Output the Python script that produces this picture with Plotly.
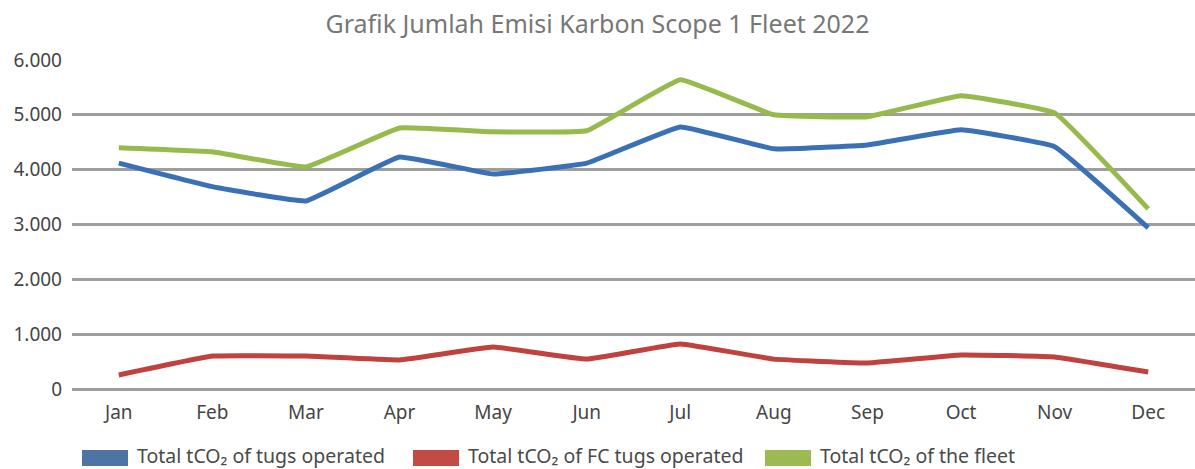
import plotly.graph_objects as go

months = ["Jan", "Feb", "Mar", "Apr", "May", "Jun", "Jul", "Aug", "Sep", "Oct", "Nov", "Dec"]
tugs_operated = [4120, 3690, 3430, 4230, 3920, 4120, 4780, 4380, 4450, 4730, 4420, 2940]
fc_tugs_operated = [255, 600, 600, 530, 765, 545, 820, 545, 475, 620, 585, 310]
fleet_total = [4400, 4325, 4050, 4760, 4690, 4710, 5640, 5000, 4965, 5350, 5035, 3285]

series_names = [
    "Total tCO₂ of tugs operated",
    "Total tCO₂ of FC tugs operated",
    "Total tCO₂ of the fleet",
]
line_colors = ["#3A70B5", "#C0423F", "#96BB4C"]
swatch_colors = ["#4E74A4", "#C44A46", "#9BBB52"]

fig = go.Figure()
for vals, name, col in zip([tugs_operated, fc_tugs_operated, fleet_total], series_names, line_colors):
    fig.add_trace(go.Scatter(
        x=months, y=vals, mode="lines", name=name,
        line=dict(color=col, width=5, shape="spline", smoothing=0.25),
        showlegend=False,
    ))

font_family = "Noto Sans, Open Sans, sans-serif"

PL, PT, PW, PH = 72, 60, 1123, 329

def px(x):
    return (x - PL) / PW

def py(y):
    return (PT + PH - y) / PH

# manual legend
legend_x = [82, 413, 765]
for lx, name, col in zip(legend_x, series_names, swatch_colors):
    fig.add_shape(type="rect", xref="paper", yref="paper",
                  x0=px(lx), x1=px(lx + 46), y0=py(450), y1=py(466),
                  fillcolor=col, line=dict(width=0))
    fig.add_annotation(text=name, xref="paper", yref="paper",
                       x=px(lx + 54), y=py(455.5), borderpad=0,
                       xanchor="left", yanchor="middle", showarrow=False,
                       font=dict(size=19.5, color="#4A4A4A", family=font_family))

fig.update_layout(
    width=1195, height=469,
    margin=dict(l=PL, r=0, t=PT, b=469 - PT - PH),
    paper_bgcolor="white", plot_bgcolor="white",
    title=dict(text="Grafik Jumlah Emisi Karbon Scope 1 Fleet 2022",
               x=0.5, xanchor="center", y=1 - 24 / 469, yanchor="middle",
               font=dict(size=25, color="#777777", family=font_family)),
    font=dict(family=font_family, color="#454545", size=19),
    xaxis=dict(range=[-0.5, 11.5], showgrid=False, showline=False, zeroline=False, ticks="",
               ticklabelstandoff=10,
               tickfont=dict(size=19, color="#454545")),
    yaxis=dict(range=[0, 6000], dtick=1000, tickformat=",d",
               showgrid=True, gridcolor="#9E9E9E", gridwidth=2.5,
               zeroline=True, zerolinecolor="#9E9E9E", zerolinewidth=2.5,
               showline=False, ticks="", ticklabelstandoff=9,
               tickfont=dict(size=19, color="#454545")),
    separators=",.",
)

fig.write_html("out.html", config={"displayModeBar": False},
               post_script="document.body.style.margin='0';")
